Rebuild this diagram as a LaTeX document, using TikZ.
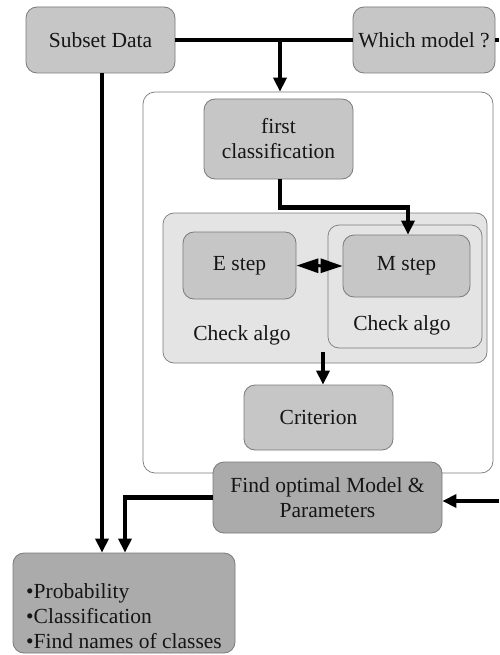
\documentclass[tikz,border=0pt]{standalone}
\usepackage{fontspec}
\setmainfont{Liberation Serif}
\usetikzlibrary{arrows.meta,calc}
\definecolor{boxgray}{HTML}{C6C6C6}
\definecolor{darkbox}{HTML}{ABABAB}
\definecolor{lightbox}{HTML}{E4E4E4}
\definecolor{edgegray}{HTML}{7A7A7A}
\definecolor{txt}{HTML}{151515}
\begin{document}
\begin{tikzpicture}[x=1pt,y=-1pt,
  every node/.style={font=\fontsize{21.5}{25}\selectfont, text=txt},
  box/.style={draw=edgegray, line width=0.8pt, fill=boxgray, rounded corners=11pt, inner sep=0pt, align=center},
  darkbox/.style={box, fill=darkbox},
  panel/.style={draw=edgegray, line width=0.7pt, fill=lightbox, rounded corners=11pt, inner sep=0pt},
  conn/.style={line width=4.5pt, black},
  arr/.style={conn, -{Triangle[length=14pt,width=13pt]}},
  dbl/.style={line width=3pt, black, {Triangle[length=22pt,width=14pt]}-{Triangle[length=22pt,width=14pt]}}
]
\useasboundingbox (0,0) rectangle (499,655);
\fill[white] (0,0) rectangle (499,655);

% container
\node[draw=edgegray, line width=0.7pt, fill=white, rounded corners=12pt, minimum width=350pt, minimum height=381pt, inner sep=0pt] (cont) at (318,282.5) {};

% top nodes
\node[box, minimum width=149pt, minimum height=66pt] (sub) at (100.5,40) {Subset Data};
\node[box, minimum width=142pt, minimum height=66pt] (which) at (424,40) {Which model ?};

\node[box, minimum width=149pt, minimum height=80pt] (first) at (278.5,139) {first\\classification};

% check algo panels
\node[panel, minimum width=324pt, minimum height=150pt] (check) at (325,288) {};
\node[panel, minimum width=154pt, minimum height=123pt] (mcheck) at (405,286.5) {};
\node[box, minimum width=113pt, minimum height=67pt] (estep) at (239.5,265.5) {E step};
\node[box, minimum width=127pt, minimum height=62pt] (mstep) at (406.5,266) {M step};
\node (lcheck) at (242,335) {Check algo};
\node (rcheck) at (402,325) {Check algo};

\node[box, minimum width=149pt, minimum height=65pt] (crit) at (318.5,417.5) {Criterion};

\node[darkbox, minimum width=229pt, minimum height=71pt] (find) at (327.5,497.5) {Find optimal Model \&\\Parameters};

\node[darkbox, minimum width=222pt, minimum height=100pt] (res) at (124,603) {};
\node[anchor=west, align=left, inner sep=0pt] (restext) at (26,616) {•Probability\\•Classification\\•Find names of classes};

% connectors
\coordinate (j1) at (280,40);
\coordinate (redge) at (499,40);
\coordinate (redge2) at (499,501);
\draw[conn] (sub.east) -- (which.west);
\draw[conn] (which.east) -- (redge);
\draw[arr] (j1) -- (j1 |- cont.north);
\draw[arr] ([xshift=1.5pt]first.south) -- ++(0,28) -| ([xshift=1.5pt]mstep.north);
\draw[dbl] (estep.east) -- (mstep.west);
\draw[arr] ([xshift=-2pt,yshift=11pt]check.south) -- ([xshift=-2pt]check.south |- crit.north);
\draw[arr] (redge2) -- (redge2 -| find.east);
\draw[arr] (find.west) -| ([xshift=1pt]res.north);
\draw[arr] ([xshift=1.5pt]sub.south) -- ([xshift=1.5pt]sub.south |- res.north);
\end{tikzpicture}
\end{document}
